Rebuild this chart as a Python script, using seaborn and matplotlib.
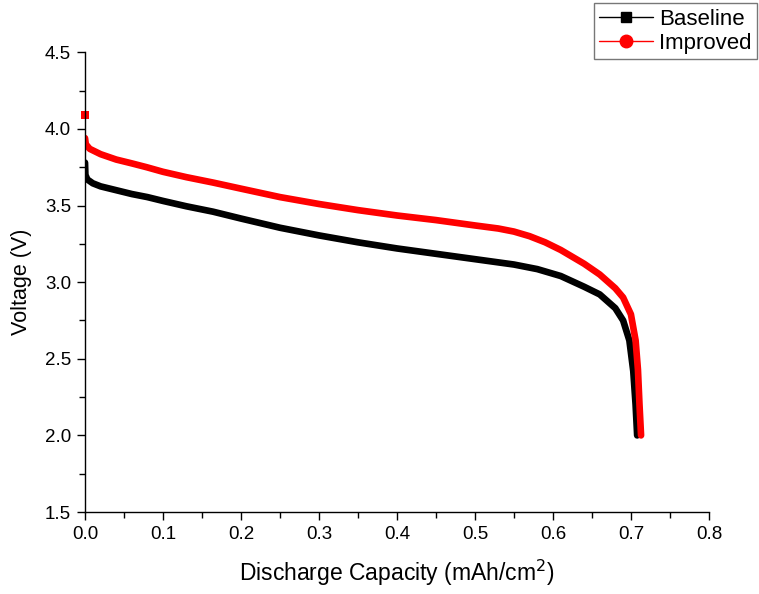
import matplotlib
matplotlib.use("Agg")
import matplotlib.pyplot as plt
from matplotlib.lines import Line2D
from matplotlib.ticker import MultipleLocator
import seaborn as sns
import pandas as pd

# Data
base_cap = [0.0, 0.0005, 0.003, 0.01, 0.02, 0.04, 0.06, 0.08, 0.1, 0.13, 0.164, 0.2,
            0.25, 0.3, 0.35, 0.4, 0.45, 0.5, 0.55, 0.58, 0.61, 0.64, 0.66, 0.68,
            0.69, 0.698, 0.703, 0.706, 0.708]
base_v = [3.78, 3.70, 3.67, 3.645, 3.625, 3.60, 3.575, 3.555, 3.53, 3.495, 3.46, 3.415,
          3.355, 3.305, 3.26, 3.22, 3.185, 3.15, 3.115, 3.085, 3.04, 2.97, 2.92, 2.83,
          2.75, 2.62, 2.42, 2.20, 2.0]

imp_cap = [0.0, 0.001, 0.006, 0.02, 0.04, 0.06, 0.079, 0.1, 0.13, 0.164, 0.2, 0.25,
           0.3, 0.35, 0.4, 0.45, 0.5, 0.53, 0.55, 0.57, 0.59, 0.61, 0.64, 0.66,
           0.68, 0.69, 0.70, 0.706, 0.709, 0.711, 0.713]
imp_v = [3.94, 3.90, 3.87, 3.835, 3.80, 3.775, 3.75, 3.72, 3.685, 3.65, 3.61, 3.555,
         3.51, 3.47, 3.435, 3.405, 3.37, 3.35, 3.33, 3.30, 3.26, 3.21, 3.12, 3.05,
         2.96, 2.90, 2.79, 2.62, 2.43, 2.20, 2.0]

imp_start_cap = [0.0]
imp_start_v = [4.09]

series_names = ["Baseline", "Improved"]
colors = {"Baseline": "#000000", "Improved": "#ff0000"}

x_ticks = [0.0, 0.1, 0.2, 0.3, 0.4, 0.5, 0.6, 0.7, 0.8]
y_ticks = [1.5, 2.0, 2.5, 3.0, 3.5, 4.0, 4.5]

sns.set_style("ticks")
plt.rcParams["font.family"] = ["Liberation Sans", "DejaVu Sans"]
plt.rcParams["text.color"] = "#000000"
plt.rcParams["axes.labelcolor"] = "#000000"

df = pd.concat([
    pd.DataFrame({"cap": base_cap, "v": base_v, "series": "Baseline"}),
    pd.DataFrame({"cap": imp_cap, "v": imp_v, "series": "Improved"}),
])

fig = plt.figure(figsize=(7.59, 5.94), dpi=100)
ax = fig.add_axes([0.112, 0.138, 0.822, 0.774])

sns.lineplot(data=df, x="cap", y="v", hue="series", palette=colors, sort=False,
             estimator=None, linewidth=4.8, solid_capstyle="round",
             solid_joinstyle="round", legend=False, ax=ax)
sns.scatterplot(x=imp_start_cap, y=imp_start_v, marker="s", s=30, color="#ff0000",
                linewidth=0, ax=ax, legend=False, clip_on=False)

ax.set_xlim(0.0, 0.8)
ax.set_ylim(1.5, 4.5)
ax.set_xticks(x_ticks)
ax.set_yticks(y_ticks)
ax.set_xticklabels([f"{t:.1f}" for t in x_ticks])
ax.set_yticklabels([f"{t:.1f}" for t in y_ticks])
ax.xaxis.set_minor_locator(MultipleLocator(0.05))
ax.yaxis.set_minor_locator(MultipleLocator(0.25))
ax.tick_params(axis="both", which="major", direction="out", length=6, width=1,
               labelsize=13.5, colors="#000000", labelcolor="#000000", pad=4)
ax.tick_params(axis="both", which="minor", direction="out", length=4, width=1,
               colors="#000000")
sns.despine(ax=ax)
for s in ["left", "bottom"]:
    ax.spines[s].set_linewidth(1.0)
    ax.spines[s].set_color("#000000")

ax.set_xlabel("Discharge Capacity (mAh/cm$^2$)", fontsize=16.5, labelpad=11,
              color="#000000")
ax.set_ylabel("Voltage (V)", fontsize=15.5, labelpad=9, color="#000000")

handles = [
    Line2D([0], [0], color="#000000", lw=1, marker="s", markersize=7),
    Line2D([0], [0], color="#ff0000", lw=1, marker="o", markersize=9),
]
leg = fig.legend(handles, series_names, loc="upper right",
                 bbox_to_anchor=(0.998, 0.995), fontsize=16, frameon=True,
                 fancybox=False, edgecolor="#555555", handlelength=2.4,
                 handletextpad=0.3, borderpad=0.25, labelspacing=0.15,
                 borderaxespad=0.0)
leg.get_frame().set_linewidth(1.0)
for t in leg.get_texts():
    t.set_color("#000000")

fig.savefig("out.png", dpi=100)
